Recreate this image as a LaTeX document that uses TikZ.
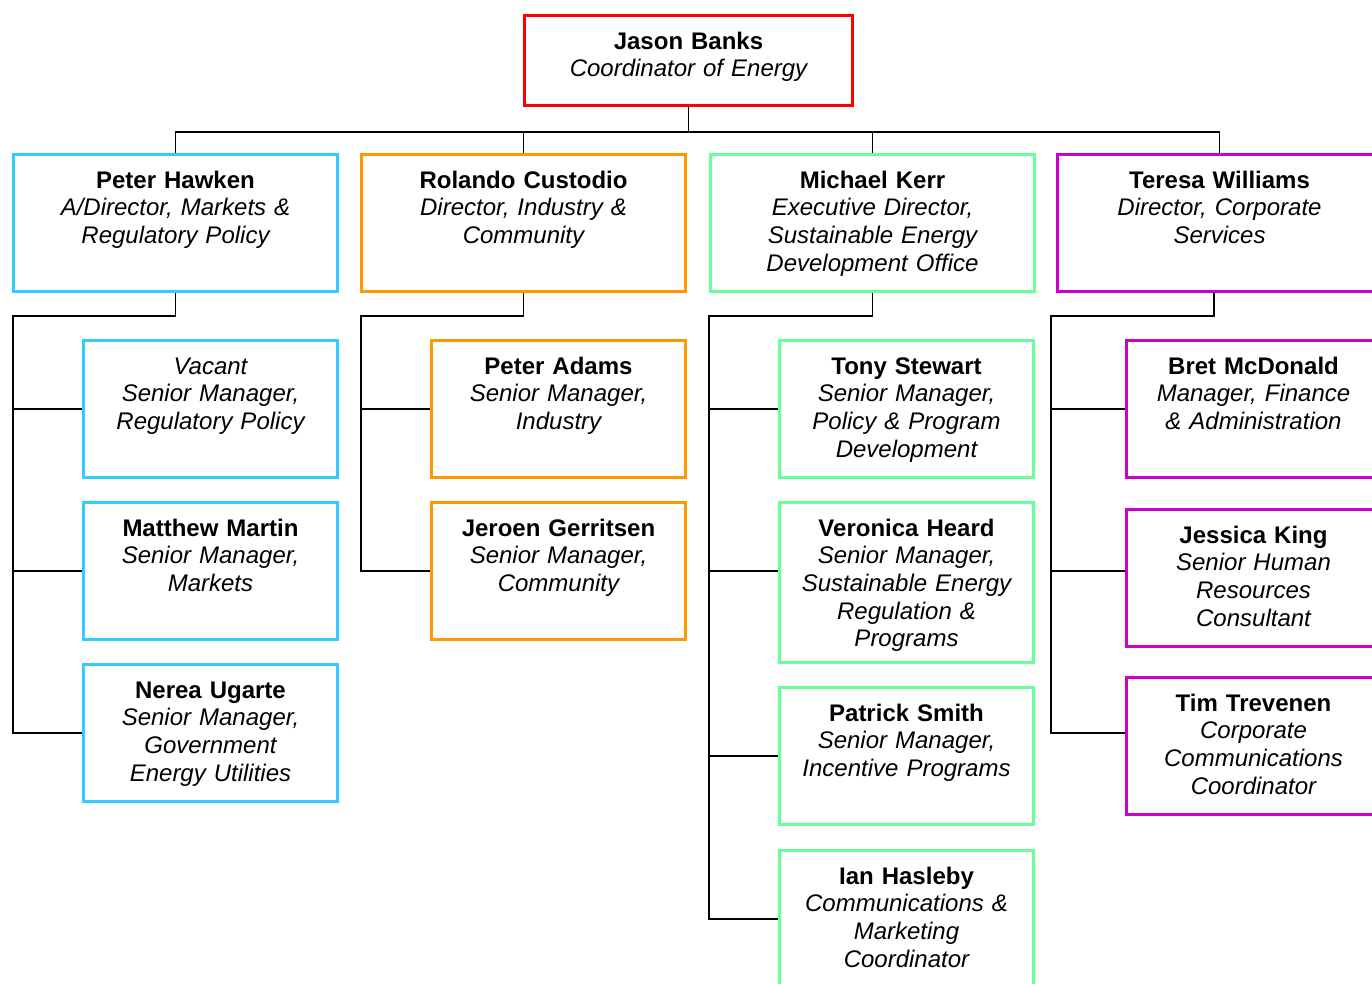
\documentclass[tikz,border=0pt]{standalone}
\usepackage{fontspec}
\setmainfont{Liberation Sans}
\definecolor{cy}{RGB}{51,204,255}
\definecolor{og}{RGB}{255,153,0}
\definecolor{gr}{RGB}{102,255,153}
\definecolor{mg}{RGB}{204,0,204}
\definecolor{rd}{RGB}{255,0,0}
\tikzset{
  person/.style={draw, line width=3pt, inner sep=0pt, anchor=north west, align=center,
    font=\fontsize{24}{27.7}\selectfont, text height=33.5pt},
  topbox/.style={person, draw=rd, text width=328pt, text depth=56.5pt},
  widebox/.style={person, text width=324pt, text depth=103.5pt},
  narrowbox/.style={person, text width=254pt, text depth=103.5pt},
  tallbox/.style={person, text width=254pt, text depth=126.5pt},
  conn/.style={line width=1.8pt, black}
}
\begin{document}
\begin{tikzpicture}[x=1pt,y=-1pt]
\useasboundingbox (0,0) rectangle (1372,983);
\clip (0,0) rectangle (1372,983);
\fill[white] (0,0) rectangle (1372,983);

% top
\node[topbox] (jb) at (523,14) {\textbf{Jason Banks}\\\itshape Coordinator of Energy};

% row 1
\node[widebox, draw=cy] (ph) at (12,153) {\textbf{Peter Hawken}\\\itshape A/Director, Markets \&\\Regulatory Policy};
\node[widebox, draw=og] (rc) at (360,153) {\textbf{Rolando Custodio}\\\itshape Director, Industry \&\\Community};
\node[widebox, draw=gr] (mk) at (709,153) {\textbf{Michael Kerr}\\\itshape Executive Director,\\Sustainable Energy\\Development Office};
\node[widebox, draw=mg] (tw) at (1056,153) {\textbf{Teresa Williams}\\\itshape Director, Corporate\\Services};

% column 1
\node[narrowbox, draw=cy] (vac) at (82,339) {\itshape Vacant\\Senior Manager,\\Regulatory Policy};
\node[narrowbox, draw=cy] (mm) at (82,501) {\textbf{Matthew Martin}\\\itshape Senior Manager,\\Markets};
\node[narrowbox, draw=cy] (nu) at (82,663) {\textbf{Nerea Ugarte}\\\itshape Senior Manager,\\Government\\Energy Utilities};

% column 2
\node[narrowbox, draw=og] (pa) at (430,339) {\textbf{Peter Adams}\\\itshape Senior Manager,\\Industry};
\node[narrowbox, draw=og] (jg) at (430,501) {\textbf{Jeroen Gerritsen}\\\itshape Senior Manager,\\Community};

% column 3
\node[narrowbox, draw=gr] (ts) at (778,339) {\textbf{Tony Stewart}\\\itshape Senior Manager,\\Policy \& Program\\Development};
\node[tallbox, draw=gr] (vh) at (778,501) {\textbf{Veronica Heard}\\\itshape Senior Manager,\\Sustainable Energy\\Regulation \&\\Programs};
\node[narrowbox, draw=gr] (ps) at (778,686) {\textbf{Patrick Smith}\\\itshape Senior Manager,\\Incentive Programs};
\node[narrowbox, draw=gr] (ih) at (778,849) {\textbf{Ian Hasleby}\\\itshape Communications \&\\Marketing\\Coordinator};

% column 4
\node[narrowbox, draw=mg] (bm) at (1125,339) {\textbf{Bret McDonald}\\\itshape Manager, Finance\\\& Administration};
\node[narrowbox, draw=mg] (jk) at (1125,508) {\textbf{Jessica King}\\\itshape Senior Human\\Resources\\Consultant};
\node[narrowbox, draw=mg] (tt) at (1125,676) {\textbf{Tim Trevenen}\\\itshape Corporate\\Communications\\Coordinator};

% connector helpers
\coordinate (bus) at (0,132);
\coordinate (h1) at (13,316);
\coordinate (h2) at (361,316);
\coordinate (h3) at (709,316);
\coordinate (h4) at (1051,316);
\coordinate (twout) at ([xshift=-5.5pt]tw.south);
\coordinate (vhin) at ([yshift=11.5pt]vh.west);
\coordinate (jkin) at ([yshift=7pt]jk.west);
\coordinate (ttin) at ([yshift=13pt]tt.west);

% top bus
\draw[conn] (jb.south) -- (jb.south |- bus);
\draw[conn] (ph.north) -- (ph.north |- bus) -- (tw.north |- bus) -- (tw.north);
\draw[conn] (rc.north) -- (rc.north |- bus);
\draw[conn] (mk.north) -- (mk.north |- bus);

% column 1
\draw[conn] (ph.south) |- (h1) -- (h1 |- nu.west) -- (nu.west);
\draw[conn] (h1 |- vac.west) -- (vac.west);
\draw[conn] (h1 |- mm.west) -- (mm.west);

% column 2
\draw[conn] (rc.south) |- (h2) -- (h2 |- jg.west) -- (jg.west);
\draw[conn] (h2 |- pa.west) -- (pa.west);

% column 3
\draw[conn] (mk.south) |- (h3) -- (h3 |- ih.west) -- (ih.west);
\draw[conn] (h3 |- ts.west) -- (ts.west);
\draw[conn] (h3 |- vhin) -- (vhin);
\draw[conn] (h3 |- ps.west) -- (ps.west);

% column 4
\draw[conn] (twout) |- (h4) -- (h4 |- ttin) -- (ttin);
\draw[conn] (h4 |- bm.west) -- (bm.west);
\draw[conn] (h4 |- jkin) -- (jkin);
\end{tikzpicture}
\end{document}
